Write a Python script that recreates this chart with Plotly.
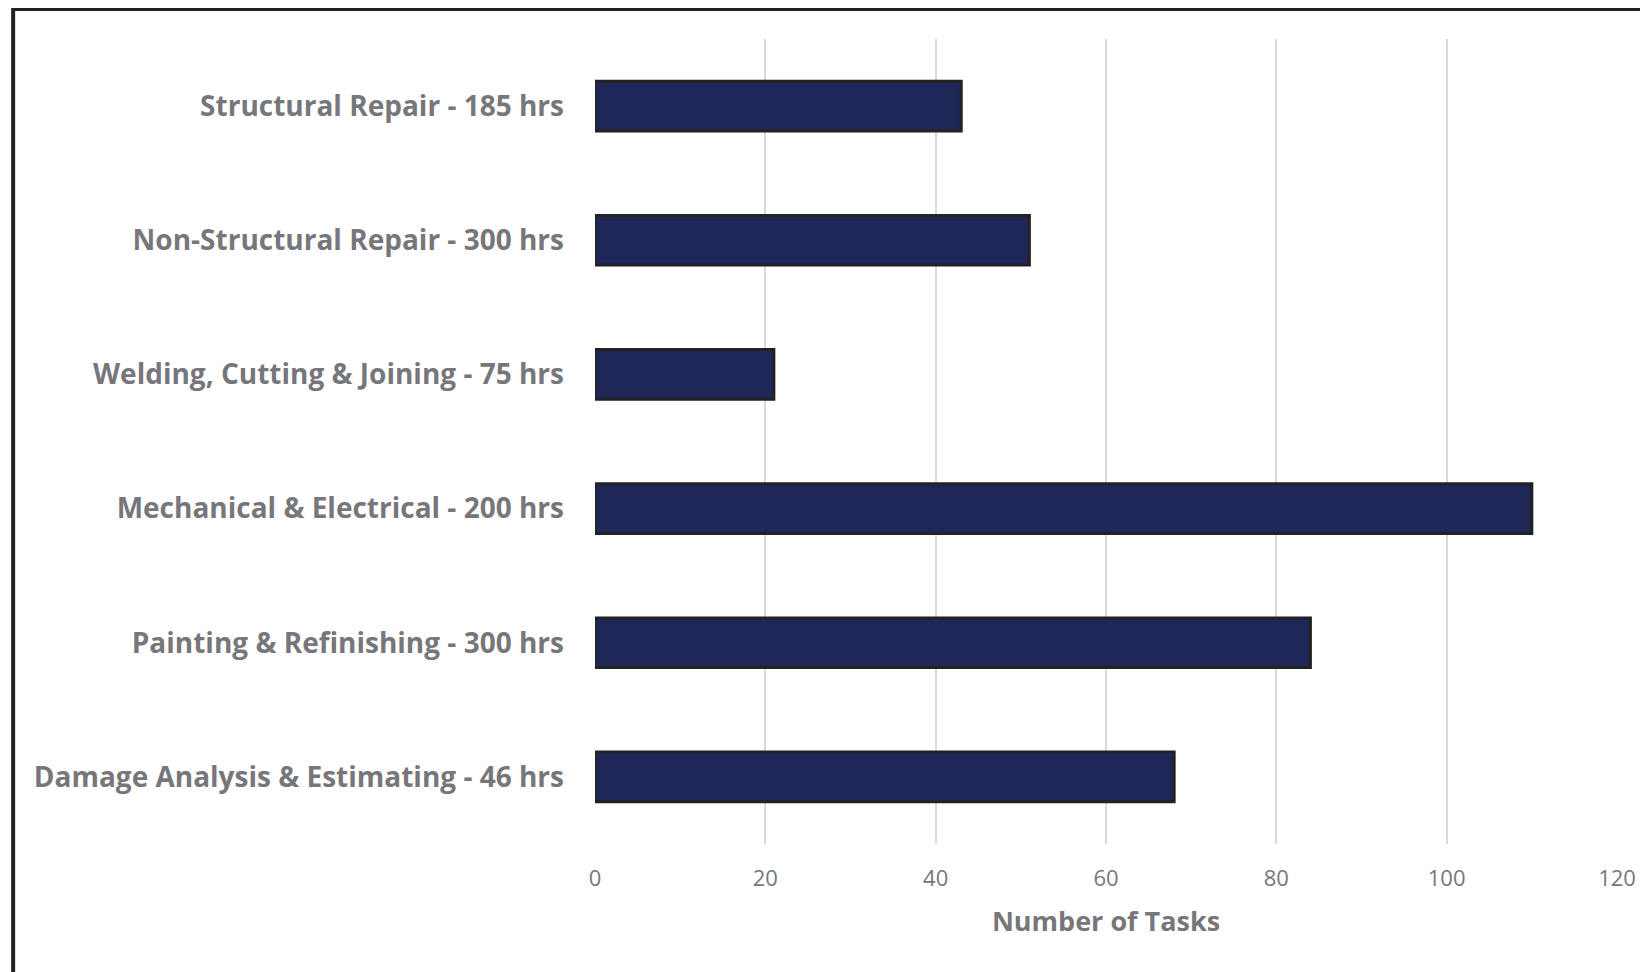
import plotly.graph_objects as go

# categories listed bottom to top (plotly draws the first category at the bottom)
categories = [
    "Damage Analysis & Estimating - 46 hrs",
    "Painting & Refinishing - 300 hrs",
    "Mechanical & Electrical - 200 hrs",
    "Welding, Cutting & Joining - 75 hrs",
    "Non-Structural Repair - 300 hrs",
    "Structural Repair - 185 hrs",
]
task_counts = [68, 84, 110, 21, 51, 43]
x_ticks = [0, 20, 40, 60, 80, 100, 120]

text_gray = "#77777b"

# the page body adds an 8px margin, so the figure is 8px smaller each way
W, H = 1640, 964
plot_left, plot_right = 587, 1611
plot_top, plot_bottom = 31, 836

fig = go.Figure()
fig.add_trace(
    go.Bar(
        y=categories,
        x=task_counts,
        orientation="h",
        width=0.37,
        marker=dict(color="#1f2759", line=dict(color="#222222", width=3)),
    )
)

fig.update_layout(
    width=W,
    height=H,
    margin=dict(l=plot_left, r=W - plot_right, t=plot_top, b=H - plot_bottom),
    plot_bgcolor="white",
    paper_bgcolor="white",
    showlegend=False,
    font=dict(family="Open Sans", color=text_gray),
    xaxis=dict(
        range=[0, 120],
        tickvals=x_ticks,
        showgrid=True,
        gridcolor="#d9d9d9",
        gridwidth=1.5,
        zeroline=False,
        showline=False,
        tickfont=dict(size=22, color=text_gray),
        ticklabelstandoff=19,
        title=dict(
            text="<b>Number of Tasks</b>",
            font=dict(size=27, color=text_gray),
            standoff=21,
        ),
    ),
    yaxis=dict(
        showgrid=False,
        zeroline=False,
        showline=False,
        tickfont=dict(size=28, color=text_gray, weight="bold"),
        ticklabelstandoff=30,
    ),
    shapes=[
        # outer frame; its right and bottom edges sit off the page
        dict(
            type="rect",
            xref="paper",
            yref="paper",
            x0=(4 - plot_left) / (plot_right - plot_left),
            x1=1.2,
            y0=-0.3,
            y1=(plot_bottom - 1) / (plot_bottom - plot_top),
            line=dict(color="#222222", width=4),
            fillcolor="rgba(0,0,0,0)",
            layer="below",
        )
    ],
)

fig.write_html("out.html")
